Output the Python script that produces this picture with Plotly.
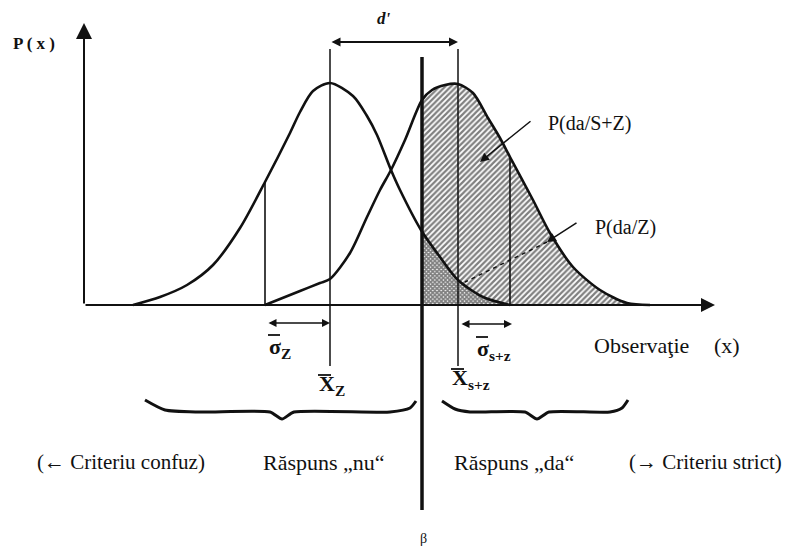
import numpy as np
import plotly.graph_objects as go

Z_X = [49, 76, 103, 129, 156, 181, 206, 216, 229, 246, 269, 283, 293, 307, 316, 337, 356, 374, 399, 426]
Z_Y = [0, 8, 20, 40, 77, 123, 172, 193, 214, 222, 209, 189, 170, 135, 115, 75, 48, 25, 8, 0]

SZ_X = [181, 216, 236, 246, 266, 283, 296, 307, 321, 338, 348, 361, 374, 389, 404, 416, 426, 449, 466, 489, 516, 543, 566]
SZ_Y = [0, 14, 22, 26, 52, 88, 115, 135, 165, 205, 215, 220, 221, 212, 187, 167, 148, 105, 72, 38, 15, 2, 0]

Z_MEAN = 246
SZ_MEAN = 374
CRITERION = 338
SIGMA_Z_POS = 181
SIGMA_SZ_POS = 426

X_AXIS_END = 631
Y_AXIS_END = 282

MEAN_TOP, MEAN_BOTTOM = 256, -61
CRIT_TOP, CRIT_BOTTOM = 248, -205
DPRIME_Y = 263
SIGMA_ARROW_Y = -18

BRACE_L_X = [61, 81, 116, 186, 198, 210, 306, 326, 332]
BRACE_L_Y = [-95, -105, -107, -107, -114, -107, -107, -103, -96]
BRACE_R_X = [358, 371, 386, 441, 453, 465, 526, 538, 544]
BRACE_R_Y = [-96, -104, -107, -107, -114, -107, -107, -103, -95]

# overlined symbols: (left edge, vertical centre, glyph, subscript, glyph width, bar height above centre)
SYMBOLS = [
    (183, -43, "σ", "Z", 13, 13),
    (233, -80, "X", "Z", 14, 10),
    (391, -45, "σ", "s+z", 13, 13),
    (366, -74, "X", "s+z", 14, 10),
]

FONT = "Liberation Serif, Times New Roman, serif"
BLACK = "#111111"


def region(xs, ys, x0):
    xs = np.asarray(xs, dtype=float)
    ys = np.asarray(ys, dtype=float)
    y0 = float(np.interp(x0, xs, ys))
    m = xs > x0
    px = [x0, x0] + xs[m].tolist() + [x0]
    py = [0, y0] + ys[m].tolist() + [0]
    return px, py


fig = go.Figure()

# hatched area: hits  P(da/S+Z)
hx, hy = region(SZ_X, SZ_Y, CRITERION)
fig.add_trace(go.Scatter(x=hx, y=hy, mode="lines", fill="toself", line=dict(width=0),
                         fillcolor="white",
                         fillpattern=dict(shape="/", fgcolor="#000000", bgcolor="white", size=4, solidity=0.55),
                         hoverinfo="skip"))
# cross-hatched area: false alarms  P(da/Z)
fx, fy = region(Z_X, Z_Y, CRITERION)
fig.add_trace(go.Scatter(x=fx, y=fy, mode="lines", fill="toself", line=dict(width=0),
                         fillcolor="white",
                         fillpattern=dict(shape="x", fgcolor="#000000", bgcolor="white", size=3, solidity=0.8),
                         hoverinfo="skip"))

# distributions
for xs, ys in [(Z_X, Z_Y), (SZ_X, SZ_Y)]:
    fig.add_trace(go.Scatter(x=xs, y=ys, mode="lines",
                             line=dict(color=BLACK, width=2.6, shape="spline", smoothing=0.8),
                             hoverinfo="skip"))

# sigma verticals (up to the curve)
for pos, xs, ys in [(SIGMA_Z_POS, Z_X, Z_Y), (SIGMA_SZ_POS, SZ_X, SZ_Y)]:
    top = float(np.interp(pos, xs, ys))
    fig.add_trace(go.Scatter(x=[pos, pos], y=[0, top], mode="lines",
                             line=dict(color=BLACK, width=1.6), hoverinfo="skip"))

# mean verticals
for pos in [Z_MEAN, SZ_MEAN]:
    fig.add_trace(go.Scatter(x=[pos, pos], y=[MEAN_BOTTOM, MEAN_TOP], mode="lines",
                             line=dict(color=BLACK, width=1.5), hoverinfo="skip"))

# criterion beta
fig.add_trace(go.Scatter(x=[CRITERION, CRITERION], y=[CRIT_BOTTOM, CRIT_TOP], mode="lines",
                         line=dict(color=BLACK, width=3.5), hoverinfo="skip"))

# braces
for bx, by in [(BRACE_L_X, BRACE_L_Y), (BRACE_R_X, BRACE_R_Y)]:
    fig.add_trace(go.Scatter(x=bx, y=by, mode="lines",
                             line=dict(color=BLACK, width=3, shape="spline", smoothing=0.6),
                             hoverinfo="skip"))

# dashed pointer for P(da/Z)
fig.add_trace(go.Scatter(x=[463, 381], y=[63, 23], mode="lines",
                         line=dict(color=BLACK, width=1.4, dash="4px,4px"), hoverinfo="skip"))

# overbars of the symbols
for left, yc, g, sub, w, h in SYMBOLS:
    fig.add_trace(go.Scatter(x=[left + 1, left + w], y=[yc + h, yc + h], mode="lines",
                             line=dict(color=BLACK, width=1.8), hoverinfo="skip"))

ann = []


def arrow(x, y, ax, ay, both=False, width=1.6, size=1.0, head=2):
    ann.append(dict(x=x, y=y, ax=ax, ay=ay, xref="x", yref="y", axref="x", ayref="y",
                    showarrow=True, text="", arrowhead=head, arrowsize=size, arrowwidth=width,
                    arrowcolor=BLACK, arrowside="end+start" if both else "end",
                    startarrowhead=head, startarrowsize=size))


def label(x, y, text, size=20, xanchor="center"):
    ann.append(dict(x=x, y=y, xref="x", yref="y", text=text, showarrow=False,
                    xanchor=xanchor, yanchor="middle",
                    font=dict(family=FONT, size=size, color=BLACK)))


# axes
arrow(0, Y_AXIS_END, 0, 0, width=2, size=1.6)
arrow(X_AXIS_END, 0, 0, 0, width=2, size=1.4)

# d', sigma arrows
arrow(SZ_MEAN, DPRIME_Y, Z_MEAN, DPRIME_Y, both=True, width=1.8)
arrow(Z_MEAN, SIGMA_ARROW_Y, SIGMA_Z_POS + 2, SIGMA_ARROW_Y, both=True, width=1.6)
arrow(SIGMA_SZ_POS + 2, SIGMA_ARROW_Y - 1, SZ_MEAN + 2, SIGMA_ARROW_Y - 1, both=True, width=1.6)

# pointers
arrow(396, 143, 448, 185, width=1.5, size=1.2)
arrow(463, 63, 494, 83, width=1.5, size=1.2)

label(-50, 262, "<b>P ( x )</b>", size=17)
label(300, 287, "<b><i>d'</i></b>", size=17)
label(506, 182, "P(da/S+Z)", size=20)
label(541, 78, "P(da/Z)", size=20)
for left, yc, g, sub, w, h in SYMBOLS:
    label(left, yc, f"<b>{g}<sub>{sub}</sub></b>", size=22, xanchor="left")
label(557, -40, "Observaţie", size=22)
label(643, -40, "(x)", size=22)
label(-49, -157, "(← Criteriu confuz)", size=21, xanchor="left")
label(303, -157, "Răspuns\u00a0„nu“", size=22, xanchor="right")
label(368, -157, "Răspuns\u00a0„da“", size=22, xanchor="left")
label(700, -157, "(→ Criteriu strict)", size=21, xanchor="right")
label(339, -233, "β", size=14)

fig.update_layout(
    width=786, height=546,
    margin=dict(l=0, r=0, t=0, b=0),
    paper_bgcolor="white", plot_bgcolor="white",
    showlegend=False,
    xaxis=dict(range=[-84, 702], visible=False, fixedrange=True),
    yaxis=dict(range=[-241, 305], visible=False, fixedrange=True),
    annotations=ann,
)

fig.write_html("out.html", config={"displayModeBar": False},
               post_script="document.body.style.margin='0';document.body.style.overflow='hidden';")
